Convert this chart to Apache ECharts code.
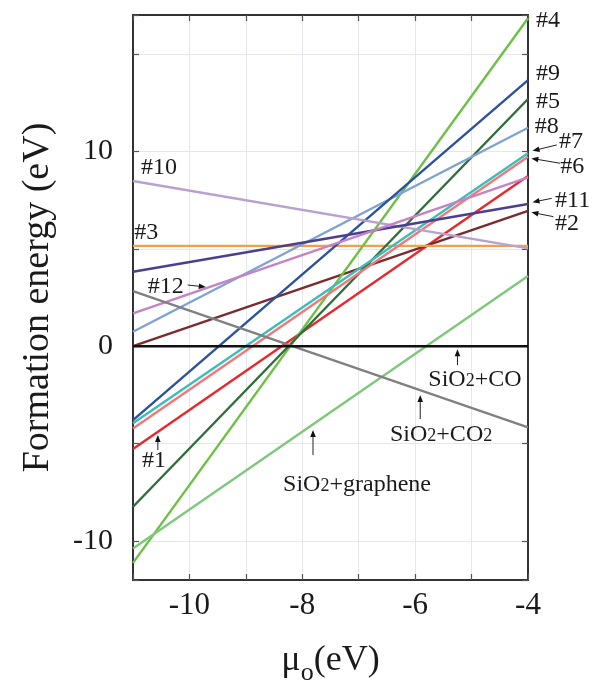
<!DOCTYPE html>
<html>
<head>
<meta charset="utf-8">
<title>Formation energy vs oxygen chemical potential</title>
<script src="https://cdn.jsdelivr.net/npm/echarts@6/dist/echarts.min.js"></script>
<style>
  html, body { margin: 0; padding: 0; background: #fff; }
  #chart { width: 599px; height: 685px; }
</style>
</head>
<body>
<div id="chart"></div>
<script>
// Oxygen chemical potential range (eV) spanned by every line
const muRange = [-11, -4];

// Configurations and their formation energies (eV) at the two ends of the range
const configNames = ['#1', '#2', '#3', '#4', '#5', '#6', '#7', '#8', '#9', '#10', '#11', '#12',
  'SiO2+graphene', 'SiO2+CO2', 'SiO2+CO'];
const energyAtLow  = [-5.28, 0.00, 5.15, -11.12, -8.24, -4.22, -3.96, 0.74, -3.79, 8.48, 3.82, 1.69,
  -10.38, 2.83, 0.00];
const energyAtHigh = [8.74, 6.95, 5.15, 16.83, 12.69, 9.73, 9.90, 11.21, 13.66, 5.02, 7.30, 8.67,
  3.60, -4.17, 0.00];

// Tick labels that are printed
const xTickLabels = [-10, -8, -6, -4];
const yTickLabels = [-10, 0, 10];

// Line colours, in the order of configNames
const lineColors = ['#e8282c', '#7b2b2e', '#f3a13f', '#6cc044', '#2f6d3a', '#f07878', '#3cbdb9',
  '#7da3d4', '#2b51a0', '#baa0d0', '#4b3f92', '#c682c4', '#7fc87a', '#808080', '#111111'];

// Text annotations: [mu, energy, text, anchor]
const notes = [
  [-3.86, 16.71, '#4', 'left'],
  [-3.86, 13.97, '#9', 'left'],
  [-3.86, 12.55, '#5', 'left'],
  [-3.88, 11.27, '#8', 'left'],
  [-3.45, 10.50, '#7', 'left'],
  [-3.43, 9.21, '#6', 'left'],
  [-3.52, 7.47, '#11', 'left'],
  [-3.52, 6.27, '#2', 'left'],
  [-10.86, 9.18, '#10', 'left'],
  [-10.98, 5.81, '#3', 'left'],
  [-10.74, 3.05, '#12', 'left'],
  [-10.84, -5.88, '#1', 'left'],
  [-4.94, -1.74, 'SiO2+CO', 'center'],
  [-5.54, -4.56, 'SiO2+CO2', 'center'],
  [-7.03, -7.13, 'SiO2+graphene', 'center']
];

// Pointer arrows: [mu from, energy from, mu to, energy to]
const arrows = [
  [-3.49, 10.33, -3.92, 10.03],
  [-3.43, 9.39, -3.94, 9.64],
  [-3.58, 7.59, -3.92, 7.39],
  [-3.55, 6.65, -3.94, 6.87],
  [-10.03, 3.14, -9.71, 3.04],
  [-10.56, -5.33, -10.56, -4.56],
  [-5.25, -0.97, -5.25, -0.15],
  [-5.91, -3.74, -5.91, -2.51],
  [-7.81, -5.59, -7.81, -4.30]
];

const SERIF = "'Liberation Serif', 'Times New Roman', serif";
const INK = '#1a1a1a';

// Write the "2" of SiO2 / CO2 as a smaller glyph
function richFormula(text) {
  return text.split(/(2)/).filter(s => s.length).map(s => s === '2' ? '{s|2}' : '{m|' + s + '}').join('');
}

const lineSeries = configNames.map((name, i) => ({
  name: name,
  type: 'line',
  data: [[muRange[0], energyAtLow[i]], [muRange[1], energyAtHigh[i]]],
  showSymbol: false,
  symbol: 'none',
  silent: true,
  lineStyle: { color: lineColors[i], width: name === 'SiO2+CO' ? 2.6 : 2.4 },
  z: name === 'SiO2+CO' ? 3 : 2
}));

const arrowSeries = {
  type: 'custom',
  silent: true,
  z: 5,
  data: arrows,
  renderItem: function (params, api) {
    const p1 = api.coord([api.value(0), api.value(1)]);
    const p2 = api.coord([api.value(2), api.value(3)]);
    const dx = p2[0] - p1[0], dy = p2[1] - p1[1];
    const len = Math.sqrt(dx * dx + dy * dy) || 1;
    const ux = dx / len, uy = dy / len;
    const L = 7, W = 2.8;
    const bx = p2[0] - ux * L, by = p2[1] - uy * L;
    return {
      type: 'group',
      children: [
        { type: 'line', shape: { x1: p1[0], y1: p1[1], x2: bx + ux * 2, y2: by + uy * 2 },
          style: { stroke: '#222', lineWidth: 1 } },
        { type: 'polygon', shape: { points: [[p2[0], p2[1]], [bx - uy * W, by + ux * W], [bx + uy * W, by - ux * W]] },
          style: { fill: '#111' } }
      ]
    };
  }
};

const noteSeries = {
  type: 'custom',
  silent: true,
  z: 6,
  data: notes.map(n => [n[0], n[1]]),
  renderItem: function (params, api) {
    const n = notes[params.dataIndex];
    const p = api.coord([api.value(0), api.value(1)]);
    const isFormula = n[2].indexOf('SiO') === 0;
    return {
      type: 'text',
      x: p[0],
      y: p[1],
      style: isFormula ? {
        text: richFormula(n[2]),
        align: n[3],
        verticalAlign: 'middle',
        rich: {
          m: { fontSize: 24, fontFamily: SERIF, fill: INK, lineHeight: 28 },
          s: { fontSize: 18, fontFamily: SERIF, fill: INK, lineHeight: 28, verticalAlign: 'middle', padding: [3, 0, 0, 0] }
        }
      } : {
        text: n[2],
        fontSize: 24,
        fontFamily: SERIF,
        fill: INK,
        align: n[3],
        verticalAlign: 'middle'
      }
    };
  }
};

const frameLine = { show: true, onZero: false, lineStyle: { color: '#333', width: 2 } };
const innerTick = { show: true, inside: true, length: 6, lineStyle: { color: '#555', width: 1.2 } };
const gridLine = { show: true, lineStyle: { color: '#e6e6ef', width: 1 } };

const option = {
  animation: false,
  backgroundColor: '#fff',
  grid: { left: 133, right: 71, top: 15, bottom: 105, outerBoundsMode: 'none', containLabel: false },
  xAxis: [{
    type: 'value',
    position: 'bottom',
    min: muRange[0],
    max: muRange[1],
    interval: 1,
    axisLine: frameLine,
    axisTick: innerTick,
    splitLine: gridLine,
    axisLabel: {
      margin: 10,
      fontSize: 31,
      fontFamily: SERIF,
      color: INK,
      formatter: v => xTickLabels.indexOf(v) >= 0 ? String(v) : ''
    },
    name: '{m|μ}{s|o}{m|(eV)}',
    nameLocation: 'middle',
    nameGap: 56,
    nameTextStyle: {
      rich: {
        m: { fontSize: 36, fontFamily: SERIF, color: INK, lineHeight: 50, verticalAlign: 'middle' },
        s: { fontSize: 26, fontFamily: SERIF, color: INK, lineHeight: 22, verticalAlign: 'bottom' }
      }
    }
  }, {
    type: 'value',
    position: 'top',
    min: muRange[0],
    max: muRange[1],
    interval: 1,
    axisLine: frameLine,
    axisTick: innerTick,
    axisLabel: { show: false },
    splitLine: { show: false }
  }],
  yAxis: [{
    type: 'value',
    position: 'left',
    min: -12,
    max: 17,
    minInterval: 5,
    maxInterval: 5,
    axisLine: frameLine,
    axisTick: innerTick,
    splitLine: gridLine,
    axisLabel: {
      margin: 20,
      fontSize: 30,
      fontFamily: SERIF,
      color: INK,
      formatter: v => yTickLabels.indexOf(v) >= 0 ? String(v) : ''
    },
    name: 'Formation energy (eV)',
    nameLocation: 'middle',
    nameGap: 76,
    nameTextStyle: { fontSize: 38, fontFamily: SERIF, color: INK }
  }, {
    type: 'value',
    position: 'right',
    min: -12,
    max: 17,
    minInterval: 5,
    maxInterval: 5,
    axisLine: frameLine,
    axisTick: innerTick,
    axisLabel: { show: false },
    splitLine: { show: false }
  }],
  series: lineSeries.concat([arrowSeries, noteSeries])
};

const chart = echarts.init(document.getElementById('chart'), null, { renderer: 'canvas' });
chart.setOption(option);
</script>
</body>
</html>
